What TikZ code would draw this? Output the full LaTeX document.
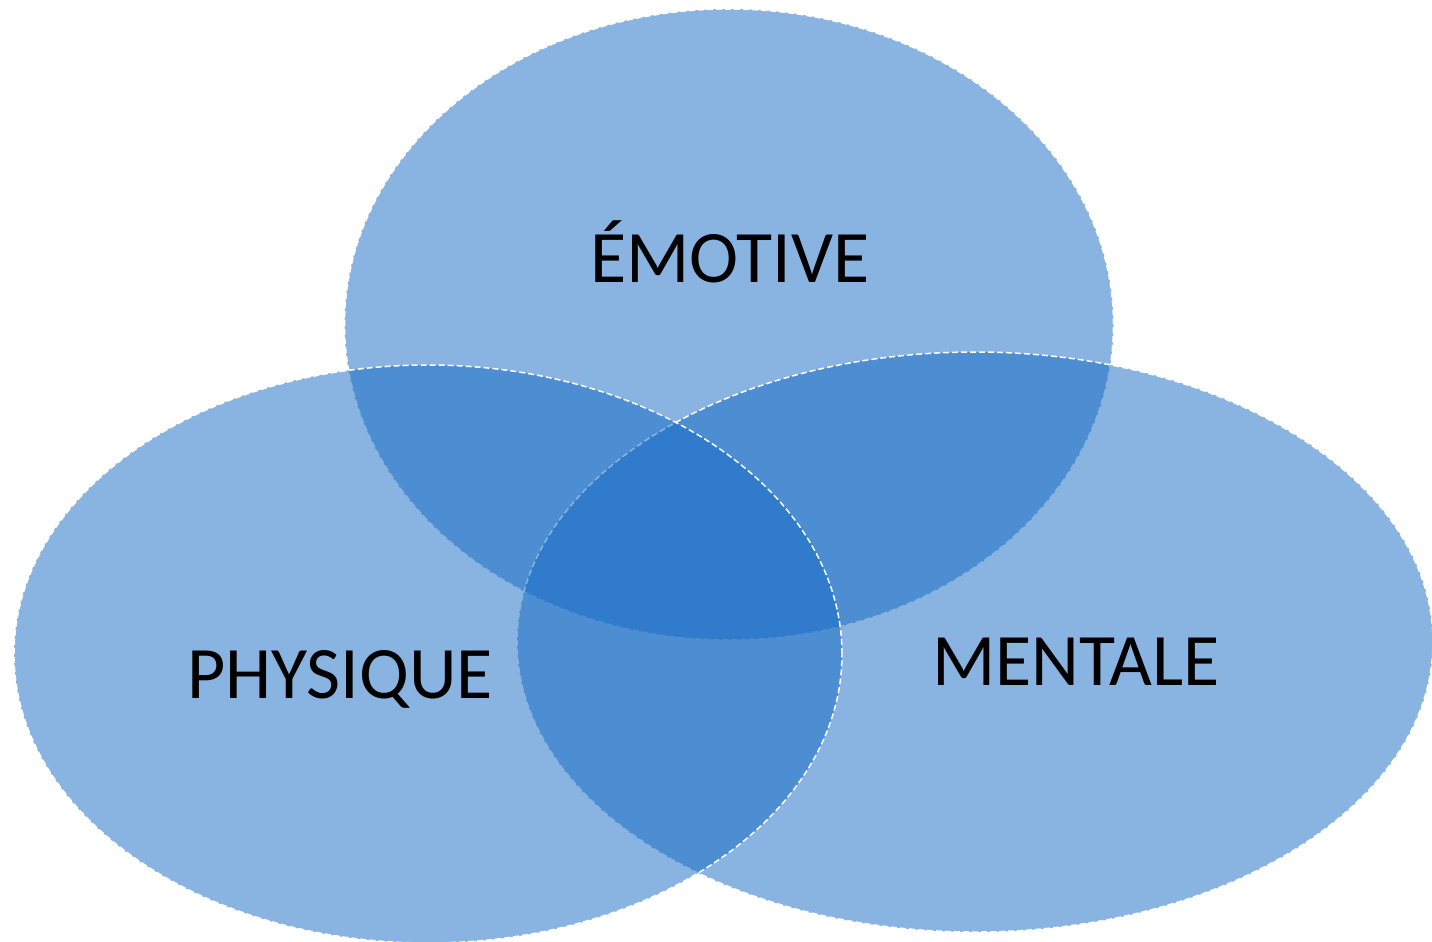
\documentclass[tikz,border=0pt]{standalone}
\usepackage{fontspec}
\setmainfont{Carlito}
\usepackage{tikz}
\usetikzlibrary{positioning,shapes}

\definecolor{vennblue}{RGB}{19,105,197}

\begin{document}
\begin{tikzpicture}[x=1pt,y=-1pt]
				\useasboundingbox (0,0) rectangle (1432,942);
				\node[draw=white, ellipse, dash pattern=on 6pt off 3pt, line width=1.5pt, fill=vennblue, fill opacity=0.5, inner sep=0pt, minimum width=769pt, minimum height=631pt] (emotive) at (729,324.5) {};
				\node[draw=white, ellipse, dash pattern=on 6pt off 3pt, line width=1.5pt, fill=vennblue, fill opacity=0.5, inner sep=0pt, minimum width=916pt, minimum height=580pt] (mentale) at (975,642) {};
				\node[draw=white, ellipse, dash pattern=on 6pt off 3pt, line width=1.5pt, fill=vennblue, fill opacity=0.5, inner sep=0pt, minimum width=828pt, minimum height=578pt] (physique) at (428,654) {};
				\node[anchor=base, font=\fontsize{74}{78}\selectfont] (emotivetext) at (730,282) {ÉMOTIVE};
				\node[anchor=base, font=\fontsize{74}{78}\selectfont] (physiquetext) at (340,698) {PHYSIQUE};
				\node[anchor=base, font=\fontsize{74}{78}\selectfont] (mentaletext) at (1076,685) {MENTALE};
				\end{tikzpicture}
\end{document}
